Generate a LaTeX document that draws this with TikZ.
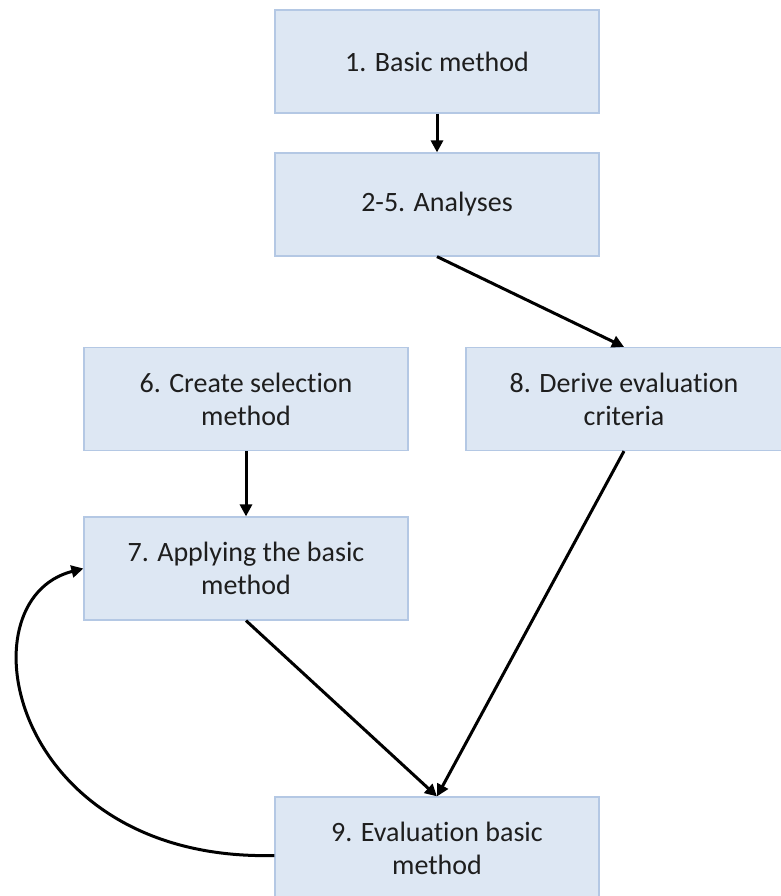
\documentclass[tikz,border=0pt]{standalone}
\usepackage{fontspec}
\setmainfont[Ligatures=NoCommon]{Carlito}
\usetikzlibrary{arrows.meta}
\definecolor{boxfill}{RGB}{221,231,243}
\definecolor{boxline}{RGB}{180,200,228}
\definecolor{txt}{RGB}{30,30,30}
\begin{document}
\begin{tikzpicture}[x=1pt,y=-1pt,
  stepbox/.style={draw=boxline,line width=1.2pt,fill=boxfill,
    minimum width=324pt,minimum height=103pt,inner sep=0pt,
    align=center,text=txt,font=\fontsize{28}{33}\selectfont},
  flow/.style={line width=3pt,-{Triangle[length=12pt,width=12pt]}}]
\useasboundingbox (0,0) rectangle (780,896);
\fill[white] (0,0) rectangle (780,896);

\node[stepbox] (b1) at (437,61.5) {1. Basic method};
\node[stepbox] (b2) at (437,204.5) {2-5. Analyses};
\node[stepbox] (b6) at (246,399) {6. Create selection\\method};
\node[stepbox,minimum width=316pt] (b8) at (624,399) {8. Derive evaluation\\criteria};
\node[stepbox] (b7) at (246,568.5) {7. Applying the basic\\method};
\node[stepbox] (b9) at (437,848.5) {9. Evaluation basic\\method};

\draw[flow] (b1.south) -- (b2.north);
\draw[flow] (b2.south) -- (b8.north);
\draw[flow] (b6.south) -- (b7.north);
\draw[flow] (b7.south) -- (b9.north);
\draw[flow] (b8.south) -- (b9.north);
\draw[flow] (b9.west) ++(0,7) coordinate (lp)
  (lp) .. controls (10,862) and (-40,600) .. (b7.west);
\end{tikzpicture}
\end{document}
